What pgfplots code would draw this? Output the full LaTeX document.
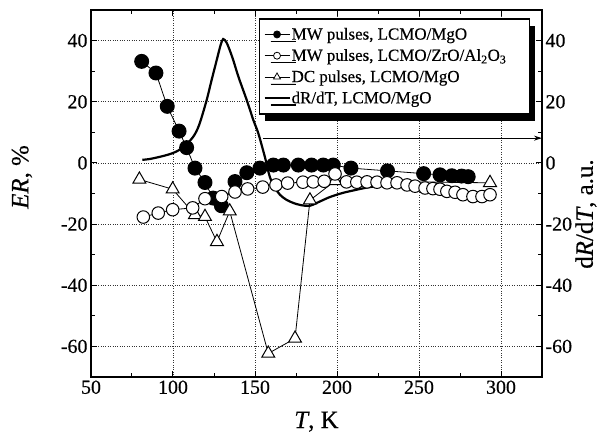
\documentclass[border=0pt]{standalone}
\usepackage{fontspec}
\setmainfont[FakeBold=0.4]{Liberation Serif}
\usepackage{pgfplots}
\pgfplotsset{compat=1.18}
\usetikzlibrary{shadows,arrows.meta}
\begin{document}
\begin{tikzpicture}
\begin{axis}[
  scale only axis, width=451bp, height=367bp,
  xmin=50, xmax=325, ymin=-70, ymax=50,
  xtick={50,100,150,200,250,300},
  xticklabels={50,100,150,200,250,300},
  ytick={-60,-40,-20,0,20,40},
  yticklabels={-60,-40,-20,0,20,40},
  minor x tick num=1, minor y tick num=1,
  xtick pos=both, ytick pos=left,
  tick align=inside,
  major tick length=6bp, minor tick length=4bp,
  tick style={black, line width=1bp},
  axis line style={line width=1.6bp},
  grid=major,
  grid style={dotted, line width=0.7bp, black!80},
  tick label style={font=\fontsize{20}{24}\selectfont},
  xlabel={\textit{T}, K},
  ylabel={\textit{ER}, \%},
  every axis x label/.style={at={(axis description cs:0.5,-0.122)}, anchor=center, font=\fontsize{25}{30}\selectfont},
  every axis y label/.style={at={(axis description cs:-0.153,0.545)}, anchor=center, rotate=90, font=\fontsize{25}{30}\selectfont},
  legend style={at={(axis description cs:0.9735,0.978)}, anchor=north east, draw=black, line width=1.5bp, fill=white, font=\fontsize{17}{20}\selectfont, drop shadow={shadow xshift=6bp, shadow yshift=-7bp, fill=black, opacity=1}, inner xsep=4bp, inner ysep=5bp, nodes={inner xsep=1bp, inner ysep=4bp}},
  legend cell align=left,
  legend image code/.code={\draw[mark repeat=2,mark phase=2,#1] plot coordinates {(0bp,0bp) (12.5bp,0bp) (25bp,0bp)};},
]
\addlegendimage{black, line width=0.8bp, mark=*, mark size=3.5, mark options={solid, fill=black, line width=0.8bp}}
\addlegendentry{MW pulses, LCMO/MgO}
\addlegendimage{black, line width=0.8bp, mark=*, mark size=3.5, mark options={solid, fill=white, line width=0.8bp}}
\addlegendentry{MW pulses, LCMO/ZrO/Al\textsubscript{2}O\textsubscript{3}\hspace*{18bp}}
\addlegendimage{black, line width=0.8bp, mark=triangle*, mark size=4, mark options={solid, fill=white, line width=0.8bp}}
\addlegendentry{DC pulses, LCMO/MgO}
\addlegendimage{black, line width=2.2bp}
\addlegendentry{dR/dT, LCMO/MgO}

% dR/dT curve
\addplot[black, line width=2.2bp, smooth, tension=0.5, forget plot] coordinates {
(81.3,1.0) (86,1.3) (92,2.0) (97,2.7) (102,3.7) (107,5.5) (112.4,8.6) (116,12.5)
(120.5,20.5) (123.5,27) (126.6,33.5) (129,38.5) (130.6,40.5) (132.5,39.5) (134.5,37)
(136.8,33.5) (140,28) (145,20.5) (149,14) (152,9.7) (156,2) (159,-4.5) (162,-8)
(165.2,-10.4) (169,-12) (173.4,-13.1) (178,-13.8) (183.5,-14) (189.6,-12.6) (195,-11.3)
(199.8,-10.4) (205,-9.6) (210,-9) (215,-8.4) (220,-7.9) (225,-7.6)
};
% MW pulses, LCMO/MgO
\addplot[black, line width=0.8bp, mark=*, mark size=7, mark options={solid, fill=black, line width=1bp}, forget plot] coordinates {
(80.9,33.2) (89.6,29.4) (96.5,18.5) (103.7,10.4) (108.3,5.0) (113.4,-1.7) (119.5,-6.4)
(124.5,-11.5) (129.5,-14.0) (137.8,-6.1) (145.0,-3.2) (153.0,-1.7) (161.2,-0.7) (167.3,-0.7)
(176.4,-0.7) (184.5,-0.7) (191.6,-0.7) (197.7,-0.7) (208.5,-1.7) (230.8,-2.6) (252.8,-3.5)
(262.8,-3.9) (270,-4.2) (276,-4.3) (280,-4.5)
};
% DC pulses
\addplot[black, line width=0.8bp, mark=triangle*, mark size=7.5, mark options={solid, fill=white, line width=1bp}, forget plot] coordinates {
(79.5,-5.4) (99.8,-8.6) (113.4,-17.0) (119.5,-17.6) (126.8,-25.8) (134.6,-15.8)
(158.1,-62.3) (174.4,-57.4) (183.5,-12.2) (198.8,-5.9) (293.3,-6.5)
};
% MW pulses, LCMO/ZrO/Al2O3
\addplot[black, line width=0.8bp, mark=*, mark size=6.3, mark options={solid, fill=white, line width=1bp}, forget plot] coordinates {
(81.9,-17.7) (91,-16.4) (99.8,-15.3) (112,-14.7) (119.5,-11.7) (129.7,-11.0) (137.8,-9.5)
(145.5,-8.5) (154.7,-7.9) (162.8,-7.2) (169.9,-6.6) (179.2,-6.3) (185.5,-6.2) (192.2,-6.0)
(198.8,-3.6) (205.8,-6.2) (212.1,-6.3) (218.3,-6.2) (224.4,-6.3) (230.5,-6.5) (236.6,-6.5)
(242.7,-7.2) (247.6,-7.6) (253.7,-8.2) (258.5,-8.4) (262.8,-8.6) (267,-9.3) (272,-9.6)
(276.8,-10.4) (282.9,-11.0) (288.4,-11.0) (293.3,-10.4)
};
\draw[-{Stealth[length=8bp,width=5bp]}, line width=1bp] (axis cs:155,8.1) -- (axis cs:325,8.1);
\end{axis}
\begin{axis}[
  scale only axis, width=451bp, height=367bp,
  xmin=50, xmax=325, ymin=-70, ymax=50,
  axis x line=none, axis y line*=right,
  ytick={-60,-40,-20,0,20,40},
  yticklabels={-60,-40,-20,0,20,40},
  minor y tick num=1,
  tick align=inside,
  major tick length=6bp, minor tick length=4bp,
  tick style={black, line width=1bp},
  axis line style={line width=1.6bp},
  tick label style={font=\fontsize{20}{24}\selectfont},
  ylabel={d\textit{R}/d\textit{T}, a.u.},
  every axis y label/.style={at={(axis description cs:1.0976,0.444)}, anchor=center, rotate=90, font=\fontsize{25}{30}\selectfont},
]
\end{axis}
\pgfresetboundingbox
\useasboundingbox (-91bp,-62bp) rectangle (508bp,377bp);
\end{tikzpicture}
\end{document}
